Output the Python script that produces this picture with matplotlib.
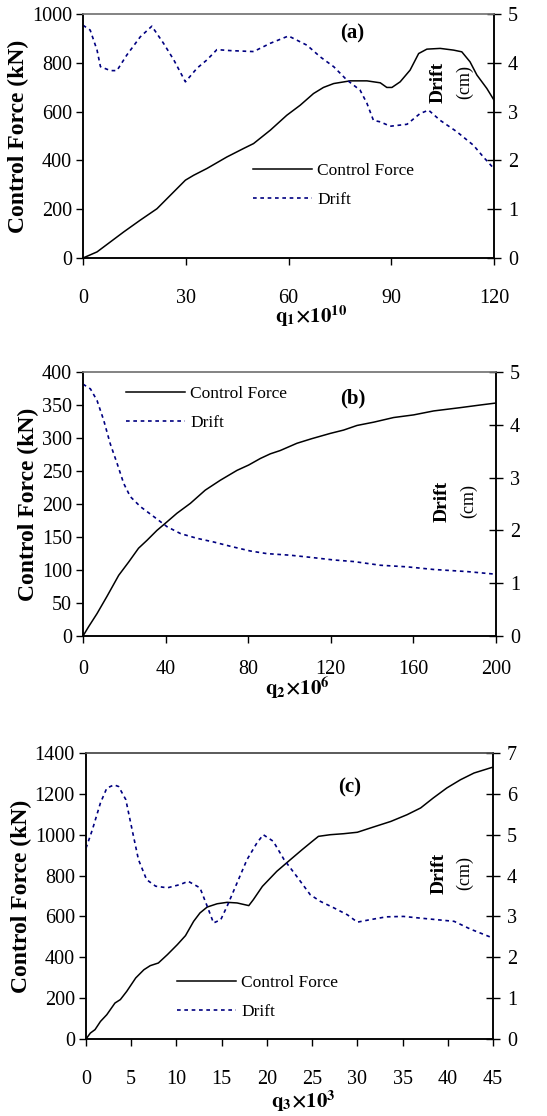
import matplotlib
matplotlib.use("Agg")
import matplotlib.pyplot as plt

plt.rcParams['font.family'] = ['Liberation Serif', 'DejaVu Serif']
plt.rcParams['mathtext.fontset'] = 'stix'

# ---------------- data: panel (a) ----------------
a_force_x = [0, 4.1, 8, 11.9, 16.7, 21.6, 25.5, 29.9, 32.3, 36.2, 42, 46.9, 49.8, 54.7, 59.5,
             63.4, 67.3, 70.2, 73.2, 78, 82.9, 86.8, 88.7, 90.2, 92.6, 95.5, 98, 100.4, 104.3,
             108.2, 110.6, 113, 115, 117.9, 120]
a_force_y = [0, 25, 66, 107, 155, 202, 257, 319, 339, 367, 414, 449, 469, 524, 585,
             626, 674, 699, 715, 726, 726, 718, 699, 699, 722, 770, 838, 856, 859,
             852, 845, 804, 750, 695, 647]
a_drift_x = [0, 2.1, 4.1, 5.1, 8, 9.9, 12.8, 16.7, 20.1, 23.5, 26.5, 29.9, 33.3, 36.2, 39.1,
             43, 49.8, 54.7, 60, 65.4, 69.3, 73.2, 77, 80.9, 82.9, 84.8, 86.8, 89.7, 94.6,
             98.4, 100.9, 104.3, 109.1, 114, 116.9, 120]
a_drift_y = [4.77, 4.67, 4.26, 3.92, 3.84, 3.84, 4.16, 4.53, 4.75, 4.40, 4.06, 3.61, 3.89, 4.06, 4.27,
             4.25, 4.23, 4.40, 4.55, 4.36, 4.12, 3.92, 3.65, 3.44, 3.17, 2.82, 2.79, 2.70, 2.74,
             2.96, 3.03, 2.82, 2.59, 2.31, 2.07, 1.83]

# ---------------- data: panel (b) ----------------
b_force_x = [0, 2.7, 6.8, 11.6, 17.3, 22.1, 26.9, 31, 35.8, 40.7, 45.5, 52, 59.2, 66.5, 74.6,
             80.2, 85.9, 90.7, 95.5, 103.6, 110.8, 119.8, 126.2, 132.7, 140.8, 150.4, 160.1,
             169.8, 182.7, 192.4, 200]
b_force_y = [0, 14, 34, 60, 92, 112, 133, 145, 160, 173, 186, 201, 221, 236, 251,
             259, 269, 276, 281, 292, 299, 307, 312, 319, 324, 331, 335,
             341, 346, 350, 353]
b_drift_x = [0, 3.6, 6.8, 10, 13.2, 16.5, 19.7, 22.9, 27.8, 34.3, 40.7, 47.2, 55.2, 63.3, 71.3,
             81, 89.1, 100.4, 110.1, 121.4, 131.1, 144, 156.9, 169.8, 186, 200]
b_drift_y = [4.77, 4.68, 4.46, 4.09, 3.64, 3.27, 2.89, 2.64, 2.45, 2.26, 2.07, 1.94, 1.85, 1.78, 1.70,
             1.61, 1.56, 1.53, 1.49, 1.44, 1.41, 1.34, 1.31, 1.26, 1.22, 1.17]

# ---------------- data: panel (c) ----------------
c_force_x = [0, 0.48, 1.0, 1.6, 2.3, 3.2, 3.8, 4.5, 5.5, 6.4, 7.1, 8.0, 9.0, 10.1, 11.0, 11.9,
             12.6, 13.4, 14.5, 15.6, 16.7, 18.0, 18.5, 19.5, 21.1, 22.6, 23.9, 25.0, 25.7,
             27.0, 28.5, 30.0, 31.8, 33.7, 35.5, 37.0, 38.4, 39.9, 41.4, 42.9, 45]
c_force_y = [0, 29, 46, 86, 119, 176, 193, 233, 299, 339, 359, 372, 413, 462, 506, 576,
             617, 646, 662, 669, 666, 653, 682, 747, 821, 878, 927, 967, 992,
             1000, 1005, 1012, 1038, 1065, 1098, 1131, 1180, 1229, 1269, 1302, 1331]
c_drift_x = [0, 0.7, 1.6, 2.3, 3.1, 3.6, 4.4, 5.1, 5.8, 6.7, 7.7, 9.0, 10.4, 11.3, 12.6, 13.4,
             14.1, 14.9, 15.6, 16.7, 17.8, 18.9, 19.6, 20.7, 21.9, 23.3, 24.8, 25.9, 27.4,
             28.9, 30.0, 31.4, 33.2, 35.1, 36.9, 38.8, 40.7, 42.5, 45]
c_drift_y = [4.67, 5.12, 5.78, 6.14, 6.22, 6.18, 5.86, 5.12, 4.39, 3.90, 3.74, 3.70, 3.78, 3.86, 3.70, 3.25,
             2.84, 2.92, 3.25, 3.82, 4.39, 4.80, 5.00, 4.84, 4.39, 3.98, 3.53, 3.37, 3.21,
             3.04, 2.86, 2.92, 2.99, 3.00, 2.96, 2.92, 2.88, 2.69, 2.47]

# ticks / labels
a_xticks = [0, 30, 60, 90, 120]
a_yticks = [0, 200, 400, 600, 800, 1000]
a_y2ticks = [0, 1, 2, 3, 4, 5]
b_xticks = [0, 40, 80, 120, 160, 200]
b_yticks = [0, 50, 100, 150, 200, 250, 300, 350, 400]
b_y2ticks = [0, 1, 2, 3, 4, 5]
c_xticks = [0, 5, 10, 15, 20, 25, 30, 35, 40, 45]
c_yticks = [0, 200, 400, 600, 800, 1000, 1200, 1400]
c_y2ticks = [0, 1, 2, 3, 4, 5, 6, 7]

labels = ["Control Force", "Drift"]
W, H = 547, 1116
fig = plt.figure(figsize=(W / 100, H / 100), dpi=100)

NAVY = '#000080'
TICK_FS = 14.5


def panel(rect, fx, fy, dx, dy, xticks, yticks, y2ticks, xlabel, tag, tagpos,
          driftpos, legpos, xpad, xlabpos, topcolor, xlabely):
    ax = fig.add_axes(rect)
    ax2 = ax.twinx()
    l1, = ax.plot(fx, fy, color='black', lw=1.1)
    l2, = ax2.plot(dx, dy, color=NAVY, lw=1.2, linestyle=(0, (2.2, 2.2)))
    ax.set_xlim(xticks[0], xticks[-1])
    ax.set_ylim(yticks[0], yticks[-1])
    ax2.set_ylim(y2ticks[0], y2ticks[-1])
    ax.set_xticks(xticks)
    ax.set_yticks(yticks)
    ax2.set_yticks(y2ticks)
    for a in (ax, ax2):
        for s in a.spines.values():
            s.set_linewidth(1.1)
        a.spines['top'].set_color(topcolor)
    ax.tick_params(axis='both', direction='out', length=5, width=1, labelsize=TICK_FS, pad=3)
    ax.tick_params(axis='x', pad=xpad)
    ax2.tick_params(axis='y', direction='inout', length=10, width=1, labelsize=TICK_FS, pad=5)
    ax.set_ylabel("Control Force (kN)", fontsize=17, fontweight='bold', labelpad=2)
    ax.set_xlabel(xlabel, fontsize=15)
    ax.xaxis.set_label_coords(xlabpos, xlabely)
    ax.text(tagpos[0], tagpos[1], tag, transform=ax.transAxes, fontsize=15,
            fontweight='bold', ha='center', va='center')
    ax.text(driftpos[0], driftpos[1], "Drift", transform=ax.transAxes, fontsize=14,
            fontweight='bold', rotation=90, ha='center', va='center')
    ax.text(driftpos[0] + 0.063, driftpos[1], "(cm)", transform=ax.transAxes, fontsize=13,
            rotation=90, ha='center', va='center')
    ax2.legend([l1, l2], labels, loc='upper left', bbox_to_anchor=legpos,
               bbox_transform=fig.transFigure, frameon=False, fontsize=12.5,
               handlelength=3.4, handletextpad=0.3, labelspacing=0.75,
               borderpad=0, borderaxespad=0)
    return ax


def fx_(px):
    return px / W


def fy_(py):
    return 1 - py / H


panel([fx_(83), fy_(258), fx_(494) - fx_(83), fy_(14) - fy_(258)],
      a_force_x, a_force_y, a_drift_x, a_drift_y, a_xticks, a_yticks, a_y2ticks,
      r'$\mathbf{q}_\mathbf{1}\mathbf{\times 10}^\mathbf{10}$', '(a)', (0.655, 0.92),
      (0.865, 0.72), (fx_(253), fy_(163)), 17, 0.555, '#808080', -0.185)

panel([fx_(83), fy_(636), fx_(496) - fx_(83), fy_(372) - fy_(636)],
      b_force_x, b_force_y, b_drift_x, b_drift_y, b_xticks, b_yticks, b_y2ticks,
      r'$\mathbf{q}_\mathbf{2}\mathbf{\times 10}^\mathbf{6}$', '(b)', (0.653, 0.9),
      (0.87, 0.51), (fx_(126), fy_(386)), 12, 0.52, '#808080', -0.15)

panel([fx_(86), fy_(1039), fx_(493) - fx_(86), fy_(753) - fy_(1039)],
      c_force_x, c_force_y, c_drift_x, c_drift_y, c_xticks, c_yticks, c_y2ticks,
      r'$\mathbf{q}_\mathbf{3}\mathbf{\times 10}^\mathbf{3}$', '(c)', (0.647, 0.88),
      (0.868, 0.58), (fx_(177), fy_(975)), 17, 0.535, '#555555', -0.175)

fig.savefig("out.png", dpi=100)
